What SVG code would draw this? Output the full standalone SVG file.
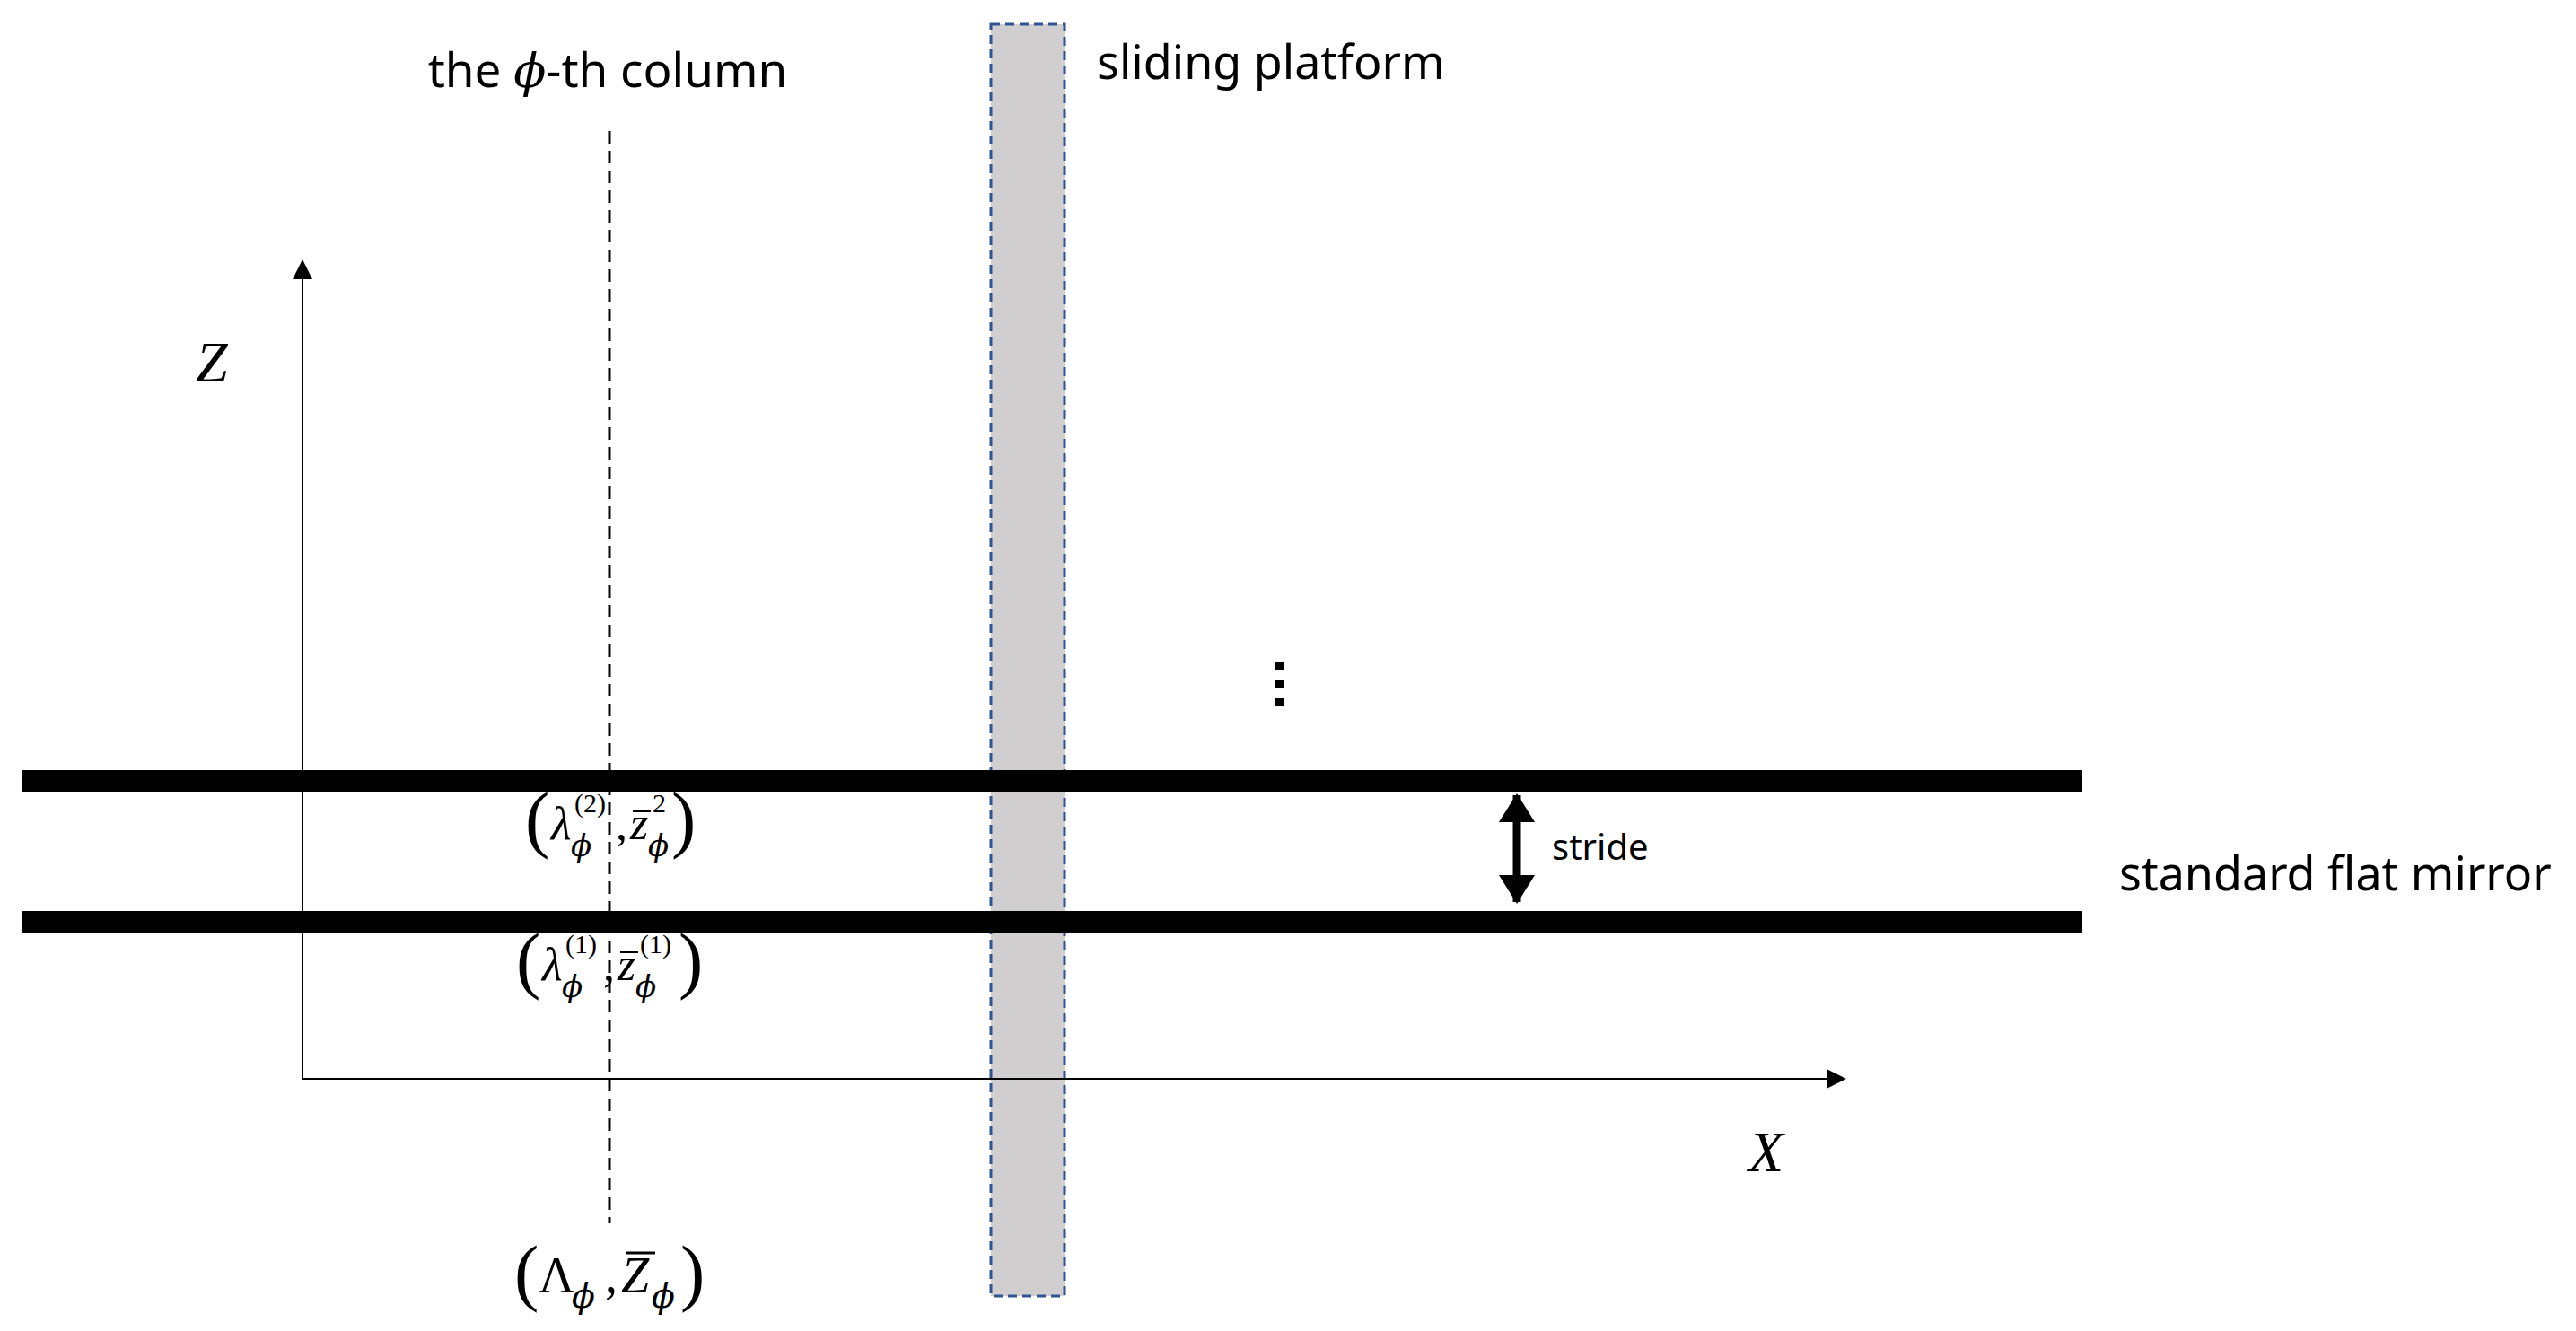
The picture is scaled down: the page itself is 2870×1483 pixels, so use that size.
<svg xmlns="http://www.w3.org/2000/svg" width="2870" height="1483" viewBox="0 0 2870 1483">
<style>
.t{font-family:"Noto Sans","Liberation Sans",sans-serif;fill:#000}
.m{font-family:"Liberation Serif","DejaVu Serif",serif;font-style:italic;fill:#000}
.p{font-family:"DejaVu Serif","Liberation Serif",serif;font-style:italic;fill:#000}
.r{font-family:"Liberation Serif","DejaVu Serif",serif;fill:#000}
.bar{fill:#000}
</style>
<defs>
<marker id="ah2" markerWidth="22" markerHeight="22" refX="18" refY="11" orient="auto-start-reverse" markerUnits="userSpaceOnUse"><path d="M0,0 L22,11 L0,22 Z" fill="#000"/></marker>
<marker id="ah3" markerWidth="32" markerHeight="40" refX="30" refY="20" orient="auto-start-reverse" markerUnits="userSpaceOnUse"><path d="M0,0 L32,20 L0,40 Z" fill="#000"/></marker>
</defs>
<rect width="2870" height="1483" fill="#fff"/>
<g id="platform"><rect x="1104" y="27" width="82" height="1417" fill="#d0cece" stroke="#2f5597" stroke-width="3" stroke-dasharray="10,6"/></g>
<g id="mirrors">
<rect class="bar" x="24" y="858" width="2296" height="25"/>
<rect class="bar" x="24" y="1015" width="2296" height="24"/>
</g>
<g id="connectors">
<line x1="679" y1="146" x2="679" y2="1363" stroke="#000" stroke-width="3" stroke-dasharray="14,8"/>
<line x1="337" y1="1202" x2="337" y2="293" stroke="#000" stroke-width="2" marker-end="url(#ah2)"/>
<line x1="337" y1="1202" x2="2053" y2="1202" stroke="#000" stroke-width="2" marker-end="url(#ah2)"/>
<line x1="1690" y1="886" x2="1690" y2="1005" stroke="#000" stroke-width="9" marker-start="url(#ah3)" marker-end="url(#ah3)"/>
</g>
<g id="dots"><rect x="1421" y="738" width="9" height="9"/><rect x="1421" y="758" width="9" height="9"/><rect x="1421" y="778" width="9" height="9"/></g>
<g id="labels">
<text class="t" x="677" y="97" font-size="53" text-anchor="middle">the <tspan class="p">ϕ</tspan>-th column</text>
<text class="t" x="1222" y="88" font-size="52">sliding platform</text>
<text class="m" x="218" y="425" font-size="64">Z</text>
<text class="m" x="1948" y="1305" font-size="64">X</text>
<text class="t" x="1729" y="958" font-size="40">stride</text>
<text class="t" x="2361" y="992" font-size="52">standard flat mirror</text>
</g>
<g id="label2">
<text class="r" x="585" y="940" font-size="82">(</text>
<text class="m" x="614" y="935" font-size="52">λ</text>
<text class="r" x="640" y="905" font-size="30">(2)</text>
<text class="p" x="636" y="954" font-size="34">ϕ</text>
<text class="r" x="686" y="935" font-size="52">,</text>
<text class="m" x="702" y="935" font-size="52">z</text>
<line x1="705" y1="904" x2="725" y2="904" stroke="#000" stroke-width="2"/>
<text class="r" x="727" y="905" font-size="30">2</text>
<text class="p" x="722" y="954" font-size="34">ϕ</text>
<text class="r" x="748" y="940" font-size="82">)</text>
</g>
<g id="label1">
<text class="r" x="575" y="1097" font-size="82">(</text>
<text class="m" x="604" y="1092" font-size="52">λ</text>
<text class="r" x="630" y="1062" font-size="30">(1)</text>
<text class="p" x="626" y="1111" font-size="34">ϕ</text>
<text class="r" x="672" y="1092" font-size="52">,</text>
<text class="m" x="688" y="1092" font-size="52">z</text>
<line x1="691" y1="1061" x2="711" y2="1061" stroke="#000" stroke-width="2"/>
<text class="r" x="713" y="1062" font-size="30">(1)</text>
<text class="p" x="708" y="1111" font-size="34">ϕ</text>
<text class="r" x="756" y="1097" font-size="82">)</text>
</g>
<g id="label0">
<text class="r" x="573" y="1445" font-size="82">(</text>
<text class="r" x="600" y="1440" font-size="56">Λ</text>
<text class="p" x="637" y="1457" font-size="38">ϕ</text>
<text class="r" x="674" y="1440" font-size="56">,</text>
<text class="m" x="692" y="1440" font-size="56">Z</text>
<line x1="698" y1="1396" x2="730" y2="1396" stroke="#000" stroke-width="3"/>
<text class="p" x="726" y="1457" font-size="38">ϕ</text>
<text class="r" x="758" y="1445" font-size="82">)</text>
</g>
</svg>
